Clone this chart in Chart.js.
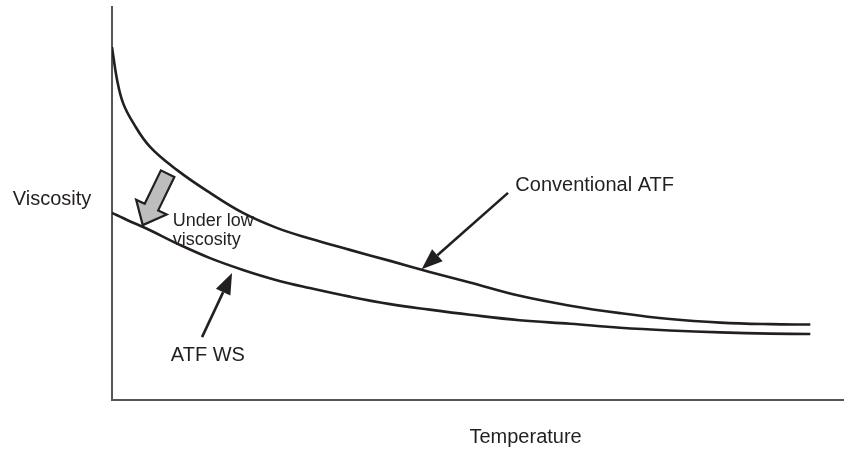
<!DOCTYPE html>
<html lang="en">

<head>
    <meta charset="UTF-8">
    <title>Viscosity vs Temperature</title>
    <script src="https://cdn.jsdelivr.net/npm/chart.js"></script>
    <style>
        body {
            margin: 0;
            background-color: #fff;
        }

        .chart-box {
            width: 844px;
            height: 449px;
        }
    </style>
</head>

<body>
    <div class="chart-box">
        <canvas id="viscosityChart" width="844" height="449"></canvas>
    </div>
    <script>
        // temperature (relative units) and viscosity (relative units)
        const temperatures = [0, 0.7, 1.5, 2.9, 5.2, 8.9, 13.4, 17.9, 22.5, 27.0, 32.5, 38.0, 43.4, 48.9, 55.7, 62.6, 69.4, 76.2, 83.1, 89.9, 95.4];
        const conventionalAtf = [89.8, 81.4, 75.6, 70.5, 64.4, 58.5, 52.7, 47.6, 43.8, 41.1, 38.2, 35.4, 32.6, 29.9, 26.5, 24.0, 22.1, 20.6, 19.7, 19.3, 19.2];
        const atfWs = [47.6, 47.0, 46.3, 45.1, 43.2, 39.8, 36.1, 33.1, 30.5, 28.5, 26.3, 24.4, 23.0, 21.7, 20.3, 19.4, 18.4, 17.7, 17.2, 16.9, 16.8];

        // callouts, in data units: [tailX, tailY, tipX, tipY]
        const conventionalArrow = [54.1, 52.7, 42.3, 33.3];
        const wsArrow = [12.3, 16.0, 16.4, 32.3];
        const dropArrow = [7.6, 57.6, 4.2, 44.5];

        const ink = '#231f20';
        const font = '"Liberation Sans", Arial, sans-serif';

        function lineArrow(ctx, x1, y1, x2, y2) {
            const a = Math.atan2(y2 - y1, x2 - x1);
            const len = 21, half = 8;
            const bx = x2 - Math.cos(a) * len, by = y2 - Math.sin(a) * len;
            ctx.strokeStyle = ink;
            ctx.lineWidth = 2.6;
            ctx.beginPath();
            ctx.moveTo(x1, y1);
            ctx.lineTo(bx, by);
            ctx.stroke();
            ctx.fillStyle = ink;
            ctx.beginPath();
            ctx.moveTo(x2, y2);
            ctx.lineTo(bx + Math.sin(a) * half, by - Math.cos(a) * half);
            ctx.lineTo(bx - Math.sin(a) * half, by + Math.cos(a) * half);
            ctx.closePath();
            ctx.fill();
        }

        function blockArrow(ctx, x1, y1, x2, y2) {
            const a = Math.atan2(y2 - y1, x2 - x1);
            const ux = Math.cos(a), uy = Math.sin(a);
            const nx = -uy, ny = ux;
            const head = 20, shaft = 7.5, wing = 17;
            const bx = x2 - ux * head, by = y2 - uy * head;
            ctx.beginPath();
            ctx.moveTo(x1 + nx * shaft, y1 + ny * shaft);
            ctx.lineTo(bx + nx * shaft, by + ny * shaft);
            ctx.lineTo(bx + nx * wing, by + ny * wing);
            ctx.lineTo(x2, y2);
            ctx.lineTo(bx - nx * wing, by - ny * wing);
            ctx.lineTo(bx - nx * shaft, by - ny * shaft);
            ctx.lineTo(x1 - nx * shaft, y1 - ny * shaft);
            ctx.closePath();
            ctx.fillStyle = '#bdbdbd';
            ctx.fill();
            ctx.strokeStyle = ink;
            ctx.lineWidth = 2.2;
            ctx.lineJoin = 'miter';
            ctx.stroke();
        }

        const calloutPlugin = {
            id: 'callouts',
            afterDatasetsDraw(chart) {
                const { ctx, scales: { x, y }, chartArea } = chart;
                const px = v => x.getPixelForValue(v);
                const py = v => y.getPixelForValue(v);
                ctx.save();

                lineArrow(ctx, px(conventionalArrow[0]), py(conventionalArrow[1]), px(conventionalArrow[2]), py(conventionalArrow[3]));
                lineArrow(ctx, px(wsArrow[0]), py(wsArrow[1]), px(wsArrow[2]), py(wsArrow[3]));
                blockArrow(ctx, px(dropArrow[0]), py(dropArrow[1]), px(dropArrow[2]), py(dropArrow[3]));

                ctx.fillStyle = ink;
                ctx.textBaseline = 'middle';
                ctx.font = '20px ' + font;
                ctx.textAlign = 'left';
                ctx.fillText('Conventional ATF', px(55.1), py(54.5));
                ctx.textAlign = 'center';
                ctx.fillText('ATF WS', px(13.1), py(11.2));
                ctx.fillText('Viscosity', chartArea.left - 60, py(50.9));
                ctx.fillText('Temperature', px(56.5), chartArea.bottom + 37);

                ctx.font = '18px ' + font;
                ctx.textAlign = 'left';
                ctx.fillText('Under low', px(8.3), py(45.5));
                ctx.fillText('viscosity', px(8.3), py(40.8));
                ctx.restore();
            }
        };

        const curve = (label, values) => ({
            label: label,
            data: temperatures.map((t, i) => ({ x: t, y: values[i] })),
            borderColor: ink,
            borderWidth: 2.6,
            pointRadius: 0,
            fill: false,
            tension: 0.4
        });

        new Chart(document.getElementById('viscosityChart'), {
            type: 'line',
            data: {
                datasets: [curve('Conventional ATF', conventionalAtf), curve('ATF WS', atfWs)]
            },
            options: {
                responsive: false,
                animation: false,
                layout: { padding: { left: 112, top: 7, right: 0, bottom: 49 } },
                plugins: { legend: { display: false }, tooltip: { enabled: false } },
                scales: {
                    x: {
                        type: 'linear',
                        min: 0,
                        max: 100,
                        grid: { display: false, drawTicks: false },
                        border: { display: true, color: '#555', width: 2 },
                        ticks: { display: false }
                    },
                    y: {
                        min: 0,
                        max: 100,
                        grid: { display: false, drawTicks: false },
                        border: { display: true, color: '#555', width: 2 },
                        ticks: { display: false }
                    }
                }
            },
            plugins: [calloutPlugin]
        });
    </script>
</body>

</html>
